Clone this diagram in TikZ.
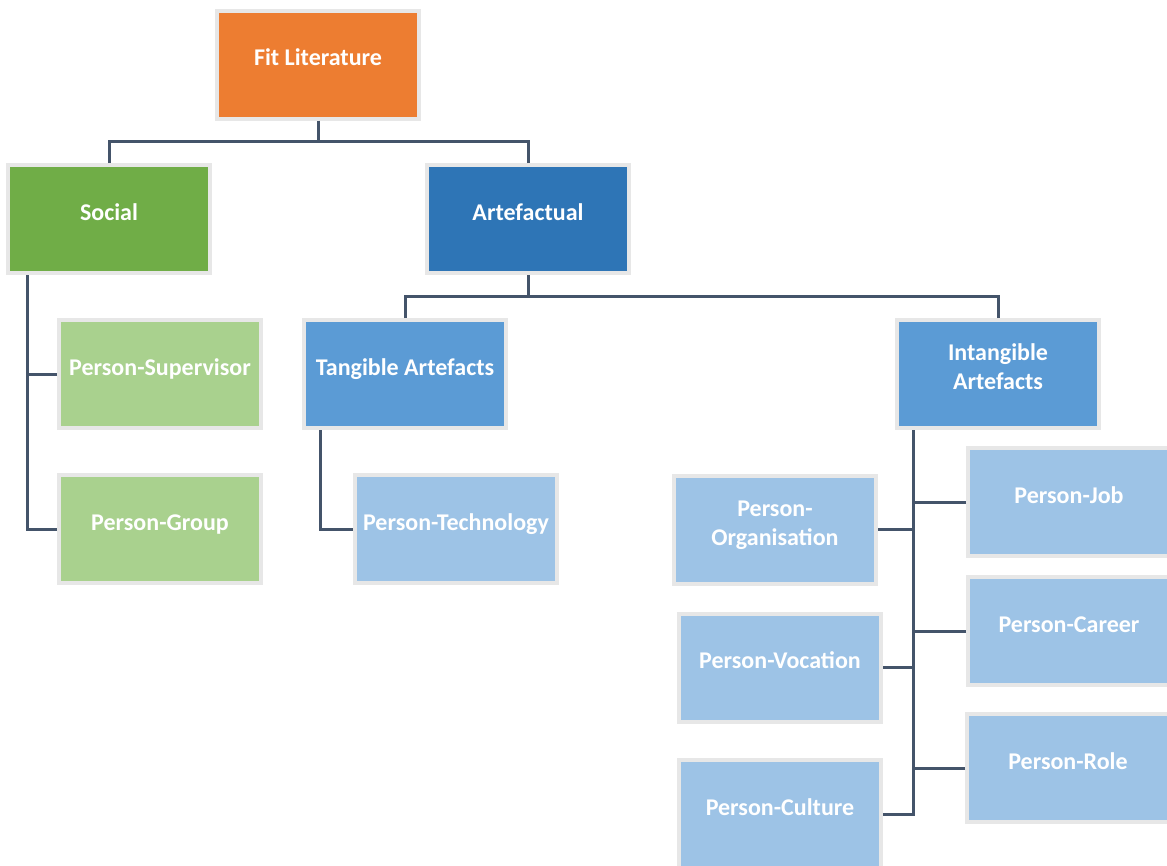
\documentclass[tikz,border=0pt]{standalone}
\usepackage{fontspec}
\setmainfont{Carlito}
\usetikzlibrary{calc}
\definecolor{cOrange}{HTML}{ED7D31}
\definecolor{cGreen}{HTML}{70AD47}
\definecolor{cDarkBlue}{HTML}{2E75B6}
\definecolor{cBlue}{HTML}{5B9BD5}
\definecolor{cLightGreen}{HTML}{A9D18E}
\definecolor{cLightBlue}{HTML}{9DC3E6}
\definecolor{cLine}{HTML}{44546A}
\definecolor{cBorder}{HTML}{E7E7E7}
\newcommand{\rtxt}[1]{\raisebox{4.5pt}[\height][\depth]{\begin{tabular}{@{}c@{}}#1\end{tabular}}}
\begin{document}
\begin{tikzpicture}[x=1pt,y=-1pt,
  box/.style={rectangle, draw=cBorder, line width=4pt, minimum width=202pt, minimum height=108pt,
    inner sep=0pt, align=center, text=white, font=\fontsize{24}{29}\selectfont\bfseries},
  conn/.style={draw=cLine, line width=3pt}]
\useasboundingbox (0,0) rectangle (1167,865);
\clip (0,0) rectangle (1167,865);
\fill[white] (0,0) rectangle (1167,865);
% nodes
\node[box, fill=cOrange] (fit) at (318,64.5) {\rtxt{Fit Literature}};
\node[box, fill=cGreen] (social) at (109,219) {\rtxt{Social}};
\node[box, fill=cDarkBlue] (artef) at (528,219) {\rtxt{Artefactual}};
\node[box, fill=cLightGreen] (supervisor) at (160,374) {\rtxt{Person-Supervisor}};
\node[box, fill=cLightGreen] (group) at (160,529) {\rtxt{Person-Group}};
\node[box, fill=cBlue] (tangible) at (405,374) {\rtxt{Tangible Artefacts}};
\node[box, fill=cLightBlue] (technology) at (456,529) {\rtxt{Person-Technology}};
\node[box, fill=cBlue] (intangible) at (998,374) {\rtxt{Intangible\\Artefacts}};
\node[box, fill=cLightBlue] (job) at (1069,502) {\rtxt{Person-Job}};
\node[box, fill=cLightBlue] (org) at (775,529.5) {\rtxt{Person-\\Organisation}};
\node[box, fill=cLightBlue] (career) at (1069,631) {\rtxt{Person-Career}};
\node[box, fill=cLightBlue] (vocation) at (780,667.5) {\rtxt{Person-Vocation}};
\node[box, fill=cLightBlue] (role) at (1068,768) {\rtxt{Person-Role}};
\node[box, fill=cLightBlue] (culture) at (780,814) {\rtxt{Person-Culture}};
% connectors
\coordinate (b1) at (318,141);
\draw[conn] (fit.south) -- (b1);
\draw[conn] (social.north) |- (b1);
\draw[conn] (artef.north) |- (b1);
\coordinate (b2) at (528,296);
\draw[conn] (artef.south) -- (b2);
\draw[conn] (tangible.north) |- (b2);
\draw[conn] (intangible.north) |- (b2);
\coordinate (st) at ($(social.south west)+(21,0)$);
\draw[conn] (st) |- (group.west);
\draw[conn] (supervisor.west) -- (supervisor.west -| st);
\coordinate (tt) at ($(tangible.south west)+(18,0)$);
\draw[conn] (tt) |- (technology.west);
\coordinate (it) at ($(intangible.south west)+(18,0)$);
\draw[conn] (it) |- (culture.east);
\draw[conn] (job.west) -- (job.west -| it);
\draw[conn] (org.east) -- (org.east -| it);
\draw[conn] (career.west) -- (career.west -| it);
\draw[conn] (vocation.east) -- (vocation.east -| it);
\draw[conn] (role.west) -- (role.west -| it);
\end{tikzpicture}
\end{document}
